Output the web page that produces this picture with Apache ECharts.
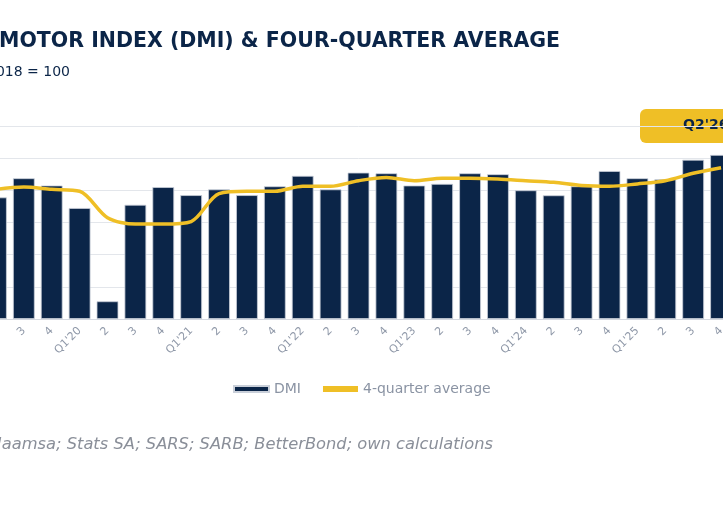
<!DOCTYPE html>
<html>
<head>
<meta charset="utf-8">
<script src="https://cdn.jsdelivr.net/npm/echarts@6/dist/echarts.min.js"></script>
<style>
  html, body { margin: 0; padding: 0; width: 723px; height: 506px; overflow: hidden; background: #fff; }
  #dmi { position: absolute; left: -100px; top: 0; width: 900px; height: 506px; }
</style>
</head>
<body>
<div id="dmi"></div>
<script>
// Data
var quarters = ["Q2'19", "Q3'19", "Q4'19",
    "Q1'20", "Q2'20", "Q3'20", "Q4'20",
    "Q1'21", "Q2'21", "Q3'21", "Q4'21",
    "Q1'22", "Q2'22", "Q3'22", "Q4'22",
    "Q1'23", "Q2'23", "Q3'23", "Q4'23",
    "Q1'24", "Q2'24", "Q3'24", "Q4'24",
    "Q1'25", "Q2'25", "Q3'25", "Q4'25"];
var dmiValues = [75.6, 87.5, 83, 69, 11, 71, 82, 77, 80.6, 77, 82.5, 89, 80.6, 91, 90.6,
    83, 84, 90.6, 90, 80, 76.9, 82.5, 92, 87.5, 86.9, 99, 102];
var avgValues = [80.6, 82, 80.6, 79.4, 63, 59, 59, 60.6, 78, 79.4, 79.4, 82.5, 82.5, 86, 88,
    86, 87.5, 87.5, 87, 86, 85, 83, 82.5, 84, 86, 90.6, 94];

var navy = '#0b2548';
var gold = '#efbf26';
var OFF = 100; // container offset
var FONT = '"DejaVu Sans", sans-serif';

var dmi_element = document.getElementById('dmi');
var dmi_chart = echarts.init(dmi_element);

dmi_chart.setOption({
    animation: false,
    textStyle: { fontFamily: FONT },

    grid: { left: OFF - 18, width: 753, top: 126, height: 193 },

    legend: {
        data: [
            { name: 'DMI', icon: 'rect' },
            { name: '4-quarter average', icon: 'rect' }
        ],
        left: OFF + 228,
        top: 377,
        itemWidth: 35,
        itemHeight: 6,
        itemGap: 22,
        textStyle: { color: '#8a93a3', fontSize: 14 }
    },

    xAxis: [{
        type: 'category',
        data: quarters,
        axisLine: { lineStyle: { color: '#d5d9e0' } },
        axisTick: { lineStyle: { color: '#d5d9e0' } },
        axisLabel: {
            color: '#8f98a8',
            fontSize: 11,
            rotate: 45,
            margin: 10,
            interval: 0,
            formatter: function (v) {
                return v.indexOf('Q1') === 0 ? v : v.charAt(1);
            }
        }
    }],

    yAxis: [{
        type: 'value',
        min: 0,
        max: 120,
        interval: 20,
        axisLabel: { show: false },
        axisLine: { show: false },
        splitLine: { lineStyle: { color: '#e3e6eb' } }
    }],

    series: [
        {
            name: 'DMI',
            type: 'bar',
            data: dmiValues,
            barCategoryGap: '22%',
            itemStyle: { color: navy, borderColor: '#c9cfd9', borderWidth: 0.8 }
        },
        {
            name: '4-quarter average',
            type: 'line',
            data: avgValues,
            smooth: 0.3,
            symbol: 'none',
            lineStyle: { color: gold, width: 3.5 },
            itemStyle: { color: gold }
        }
    ],

    graphic: [
        {
            type: 'text', left: OFF - 1, top: 31,
            style: { text: 'MOTOR INDEX (DMI) & FOUR-QUARTER AVERAGE', fill: navy,
                font: 'bold 20.5px ' + FONT }
        },
        {
            type: 'text', x: OFF + 70, y: 65,
            style: { text: '2018 = 100', fill: navy, textAlign: 'right',
                font: '14px ' + FONT }
        },
        {
            type: 'text', x: OFF + 493, y: 437,
            style: { text: 'Source: Naamsa; Stats SA; SARS; SARB; BetterBond; own calculations',
                fill: '#8a8f99', textAlign: 'right',
                font: 'italic 16.3px ' + FONT }
        },
        {
            type: 'rect', shape: { x: OFF + 640, y: 109, width: 120, height: 34, r: 6 },
            style: { fill: gold }
        },
        {
            type: 'text', x: OFF + 683, y: 118,
            style: { text: "Q2'26", fill: navy, font: 'bold 14px ' + FONT }
        }
    ]
});
</script>
</body>
</html>
